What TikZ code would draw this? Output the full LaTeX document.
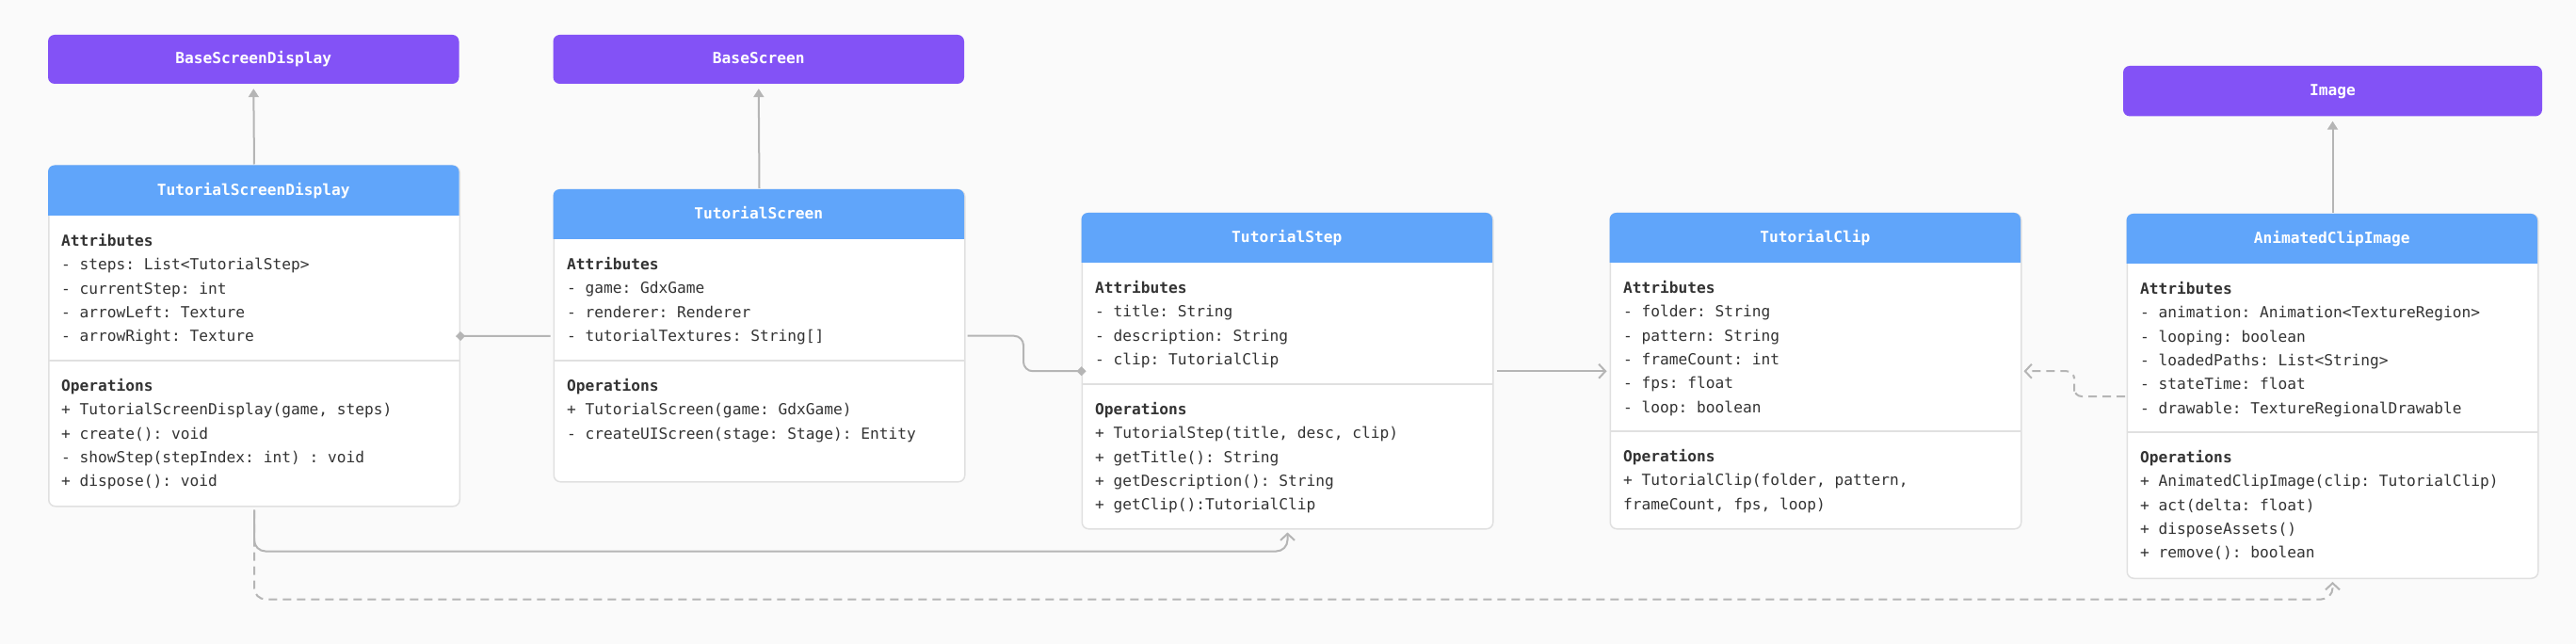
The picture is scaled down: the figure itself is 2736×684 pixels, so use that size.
\documentclass[tikz,border=0pt]{standalone}
\usepackage{fontspec}
\setmonofont{DejaVu Sans Mono}
\usetikzlibrary{arrows.meta,calc}
\definecolor{fondo}{HTML}{FAFAFA}
\definecolor{morado}{HTML}{8352F6}
\definecolor{azul}{HTML}{60A5FA}
\definecolor{borde}{HTML}{E0E0E0}
\definecolor{gris}{HTML}{B5B5B5}
\definecolor{tinta}{HTML}{333333}
\newcommand{\letra}{\ttfamily\fontsize{16.2pt}{20pt}\selectfont}

\tikzset{
  clase/.style={draw=borde, line width=1.5pt, fill=white, rounded corners=7pt,
    minimum width=436.5pt, inner sep=0pt, anchor=north west},
  padre/.style={fill=morado, rounded corners=7pt, minimum width=436.5pt,
    minimum height=52pt, inner sep=0pt, text height=12pt, text depth=2pt,
    text=white, font=\letra\bfseries},
  titulo/.style={anchor=base, inner sep=0pt, text=white, font=\letra\bfseries},
  seccion/.style={anchor=base west, inner sep=0pt, text=tinta, font=\letra\bfseries},
  campo/.style={anchor=base west, inner sep=0pt, text=tinta, font=\letra},
  separa/.style={draw=borde, line width=1.5pt},
  herencia/.style={draw=gris, line width=2pt, -{Triangle[length=9pt,width=11pt]},
    shorten >=5pt, shorten <=1pt},
  asociacion/.style={draw=gris, line width=2pt, -{Straight Barb[length=7pt,width=15pt]},
    shorten >=3pt, shorten <=3pt},
  dependencia/.style={asociacion, dash pattern=on 9pt off 6pt},
  agregacion/.style={draw=gris, line width=2pt, {Diamond[length=10pt,width=10pt]}-,
    shorten <=-5pt, shorten >=3pt}
}

\begin{document}
\begin{tikzpicture}[x=1pt,y=-1pt]
    % ---- Fondo ----
    \useasboundingbox (0,0) rectangle (2736,684);
    \fill[fondo] (0,0) rectangle (2736,684);

    % ---- Clases padre ----
    \node[padre] (bsd) at (269.25,63) {BaseScreenDisplay};
    \node[padre] (bs) at (805.75,63) {BaseScreen};
    \node[padre, minimum width=445pt, minimum height=53.5pt] (img) at (2477.5,96.7) {Image};

    % ---- TutorialScreenDisplay ----
    \node[clase, minimum height=361.5pt] (tsd) at (51,175.5) {};
    \fill[azul, rounded corners=7pt] (51,229) -- (51,175.5) -- (487.5,175.5) -- (487.5,229);
    \node[titulo] (tsd-t) at (269.25,207.75) {TutorialScreenDisplay};
    \draw[separa] (51,383) -- (487.5,383);
    \node[seccion] (tsd-at) at (65,261.5) {Attributes};
    \foreach \t [count=\i] in {{- steps: List<TutorialStep>}, {- currentStep: int},
        {- arrowLeft: Texture}, {- arrowRight: Texture}}
        \node[campo] (tsd-a\i) at (65,{261.5+25.3*\i}) {\t};
    \node[seccion] (tsd-op) at (65,415.5) {Operations};
    \foreach \t [count=\i] in {{+ TutorialScreenDisplay(game, steps)}, {+ create(): void},
        {- showStep(stepIndex: int) : void}, {+ dispose(): void}}
        \node[campo] (tsd-o\i) at (65,{415.5+25.3*\i}) {\t};

    % ---- TutorialScreen ----
    \node[clase, minimum height=310pt] (ts) at (587.5,201) {};
    \fill[azul, rounded corners=7pt] (587.5,254) -- (587.5,201) -- (1024,201) -- (1024,254);
    \node[titulo] (ts-t) at (805.75,233) {TutorialScreen};
    \draw[separa] (587.5,383) -- (1024,383);
    \node[seccion] (ts-at) at (602,286.5) {Attributes};
    \foreach \t [count=\i] in {{- game: GdxGame}, {- renderer: Renderer},
        {- tutorialTextures: String[]}}
        \node[campo] (ts-a\i) at (602,{286.5+25.3*\i}) {\t};
    \node[seccion] (ts-op) at (602,415.5) {Operations};
    \foreach \t [count=\i] in {{+ TutorialScreen(game: GdxGame)},
        {- createUIScreen(stage: Stage): Entity}}
        \node[campo] (ts-o\i) at (602,{415.5+25.3*\i}) {\t};

    % ---- TutorialStep ----
    \node[clase, minimum height=335pt] (tstep) at (1148.5,226) {};
    \fill[azul, rounded corners=7pt] (1148.5,279) -- (1148.5,226) -- (1585,226) -- (1585,279);
    \node[titulo] (tstep-t) at (1366.75,258) {TutorialStep};
    \draw[separa] (1148.5,408) -- (1585,408);
    \node[seccion] (tstep-at) at (1163,311.5) {Attributes};
    \foreach \t [count=\i] in {{- title: String}, {- description: String},
        {- clip: TutorialClip}}
        \node[campo] (tstep-a\i) at (1163,{311.5+25.3*\i}) {\t};
    \node[seccion] (tstep-op) at (1163,440.5) {Operations};
    \foreach \t [count=\i] in {{+ TutorialStep(title, desc, clip)}, {+ getTitle(): String},
        {+ getDescription(): String}, {+ getClip():TutorialClip}}
        \node[campo] (tstep-o\i) at (1163,{440.5+25.3*\i}) {\t};

    % ---- TutorialClip ----
    \node[clase, minimum height=335pt] (tclip) at (1709.5,226) {};
    \fill[azul, rounded corners=7pt] (1709.5,279) -- (1709.5,226) -- (2146,226) -- (2146,279);
    \node[titulo] (tclip-t) at (1927.75,258) {TutorialClip};
    \draw[separa] (1709.5,458) -- (2146,458);
    \node[seccion] (tclip-at) at (1724,311.5) {Attributes};
    \foreach \t [count=\i] in {{- folder: String}, {- pattern: String}, {- frameCount: int},
        {- fps: float}, {- loop: boolean}}
        \node[campo] (tclip-a\i) at (1724,{311.5+25.3*\i}) {\t};
    \node[seccion] (tclip-op) at (1724,490.5) {Operations};
    \foreach \t [count=\i] in {{+ TutorialClip(folder, pattern,}, {frameCount, fps, loop)}}
        \node[campo] (tclip-o\i) at (1724,{490.5+25.3*\i}) {\t};

    % ---- AnimatedClipImage ----
    \node[clase, minimum height=386.5pt] (aci) at (2258.5,227) {};
    \fill[azul, rounded corners=7pt] (2258.5,280) -- (2258.5,227) -- (2695,227) -- (2695,280);
    \node[titulo] (aci-t) at (2476.75,259) {AnimatedClipImage};
    \draw[separa] (2258.5,459) -- (2695,459);
    \node[seccion] (aci-at) at (2273,312.5) {Attributes};
    \foreach \t [count=\i] in {{- animation: Animation<TextureRegion>}, {- looping: boolean},
        {- loadedPaths: List<String>}, {- stateTime: float},
        {- drawable: TextureRegionalDrawable}}
        \node[campo] (aci-a\i) at (2273,{312.5+25.3*\i}) {\t};
    \node[seccion] (aci-op) at (2273,491.5) {Operations};
    \foreach \t [count=\i] in {{+ AnimatedClipImage(clip: TutorialClip)}, {+ act(delta: float)},
        {+ disposeAssets()}, {+ remove(): boolean}}
        \node[campo] (aci-o\i) at (2273,{491.5+25.3*\i}) {\t};

    % ---- Herencia ----
    \draw[herencia] (tsd.north) -- (bsd.south);
    \draw[herencia] (ts.north) -- (bs.south);
    \draw[herencia] (aci.north) -- (img.south);

    % ---- Agregacion ----
    \draw[agregacion] (tsd.east) -- (ts.west);
    \coordinate (m1) at ($(ts.east)!0.5!(tstep.west)$);
    \draw[agregacion, rounded corners=10pt, shorten >=2pt] (tstep.west) -| (m1) |- (ts.east);

    % ---- Asociaciones ----
    \draw[asociacion] (tstep.east) -- (tclip.west);
    \coordinate (m2) at ($(tclip.east)!0.5!(aci.west)$);
    \draw[dependencia, rounded corners=8pt, shorten <=1.5pt, shorten >=2pt] (aci.west) -| (m2) |- (tclip.east);
    \draw[asociacion, rounded corners=12pt] (tsd.south) -- ++(0,47) -| (tstep.south);
    \draw[dependencia, rounded corners=12pt] (tsd.south) -- ++(0,98) -| (aci.south);

\end{tikzpicture}
\end{document}
